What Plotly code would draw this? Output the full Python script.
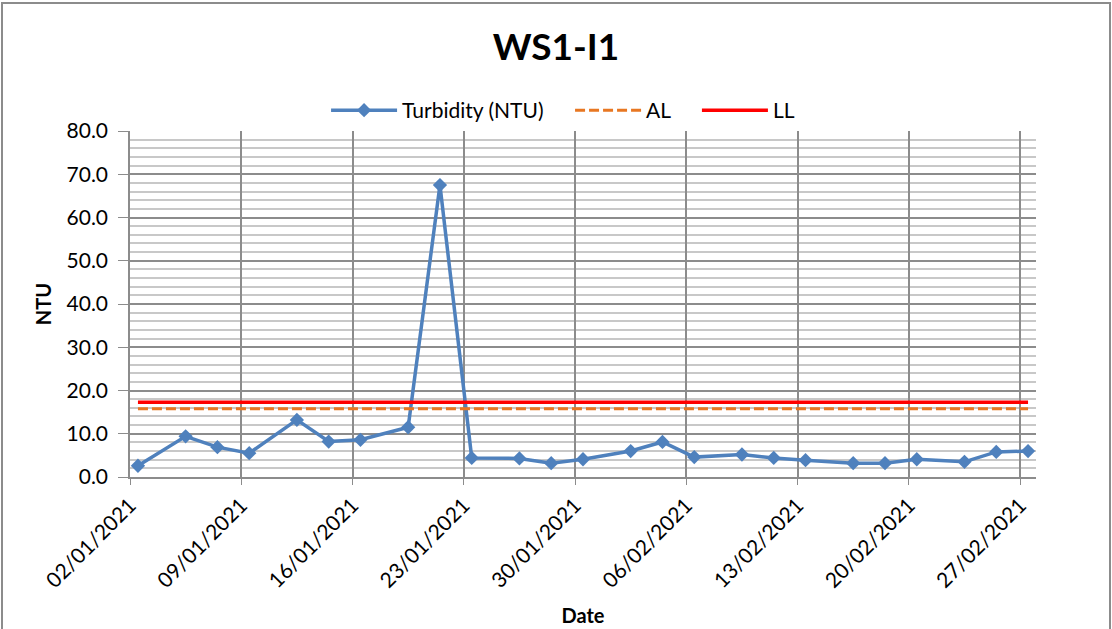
import pandas as pd
import plotly.graph_objects as go

# Sampling dates and measured turbidity (NTU)
dates = ["2021-01-02", "2021-01-05", "2021-01-07", "2021-01-09", "2021-01-12",
         "2021-01-14", "2021-01-16", "2021-01-19", "2021-01-21", "2021-01-23",
         "2021-01-26", "2021-01-28", "2021-01-30", "2021-02-02", "2021-02-04",
         "2021-02-06", "2021-02-09", "2021-02-11", "2021-02-13", "2021-02-16",
         "2021-02-18", "2021-02-20", "2021-02-23", "2021-02-25", "2021-02-27"]
turbidity = [2.6, 9.4, 6.9, 5.5, 13.2, 8.2, 8.6, 11.5, 67.5, 4.4,
             4.3, 3.2, 4.1, 6.0, 8.1, 4.6, 5.2, 4.4, 3.9, 3.2,
             3.2, 4.1, 3.5, 5.8, 6.0]

# Alert level and limit level
al_value = 15.8
ll_value = 17.3

tick_dates = ["2021-01-02", "2021-01-09", "2021-01-16", "2021-01-23", "2021-01-30",
              "2021-02-06", "2021-02-13", "2021-02-20", "2021-02-27"]
tick_text = [pd.Timestamp(d).strftime("%d/%m/%Y") for d in tick_dates]

# Points sit in the middle of each day on the date axis
x_pts = pd.to_datetime(dates) + pd.Timedelta(hours=12)

FONT = "Lato"
blue = "#4F81BD"
orange = "#E87722"
red = "#FF0000"
PAD = "\u00a0" * 4  # spacing between legend entries

fig = go.Figure()
fig.add_trace(go.Scatter(
    x=x_pts, y=turbidity, name="Turbidity (NTU)" + PAD, mode="lines+markers",
    line=dict(color=blue, width=3.5),
    marker=dict(symbol="diamond", size=11, color=blue),
))
fig.add_trace(go.Scatter(
    x=x_pts, y=[al_value] * len(dates), name="AL" + PAD, mode="lines",
    line=dict(color=orange, width=3, dash="10px,4px"),
))
fig.add_trace(go.Scatter(
    x=x_pts, y=[ll_value] * len(dates), name="LL", mode="lines",
    line=dict(color=red, width=3.5),
))

fig.update_layout(
    width=1112, height=629,
    margin=dict(l=130, r=76, t=131, b=152, autoexpand=False),
    paper_bgcolor="white", plot_bgcolor="white",
    font=dict(family=FONT, size=21, color="black"),
    title=dict(text="<b>WS1-I1</b>", x=0.5, xref="container", y=0.925, yanchor="middle",
               font=dict(family=FONT, size=37, color="black")),
    showlegend=True,
    legend=dict(orientation="h", x=0.478, xanchor="center",
                y=1.0, yanchor="bottom",
                font=dict(family=FONT, size=21), itemwidth=66,
                bgcolor="rgba(0,0,0,0)"),
    xaxis=dict(
        type="date", range=["2021-01-02", "2021-02-28"],
        tickvals=tick_dates, ticktext=tick_text, tickangle=-45,
        showgrid=True, gridcolor="#8C8C8C", gridwidth=1.5,
        showline=True, linecolor="#8C8C8C", linewidth=1.5,
        ticks="outside", ticklen=6, tickcolor="#8C8C8C",
        tickfont=dict(family=FONT, size=21),
        title=dict(text="<b>Date</b>", font=dict(family=FONT, size=20), standoff=18),
        zeroline=False,
    ),
    yaxis=dict(
        range=[0, 80], dtick=10, tickformat=".1f",
        showgrid=True, gridcolor="#8C8C8C", gridwidth=1.5,
        showline=True, linecolor="#8C8C8C", linewidth=1.5,
        ticks="outside", ticklen=10, tickcolor="#8C8C8C",
        ticklabelstandoff=6,
        tickfont=dict(family=FONT, size=21),
        minor=dict(dtick=2, showgrid=True, gridcolor="#C8C8C8", gridwidth=1.5),
        title=dict(text="<b>NTU</b>", font=dict(family=FONT, size=20), standoff=10),
        zeroline=False,
    ),
)

# Outer chart frame
fig.add_shape(type="rect", xref="paper", yref="paper",
              x0=-128 / 906, x1=(1110 - 130) / 906, y0=-160 / 346, y1=(477 - 3) / 346,
              line=dict(color="#8C8C8C", width=2), fillcolor="rgba(0,0,0,0)", layer="below")

fig.write_html("out.html")
